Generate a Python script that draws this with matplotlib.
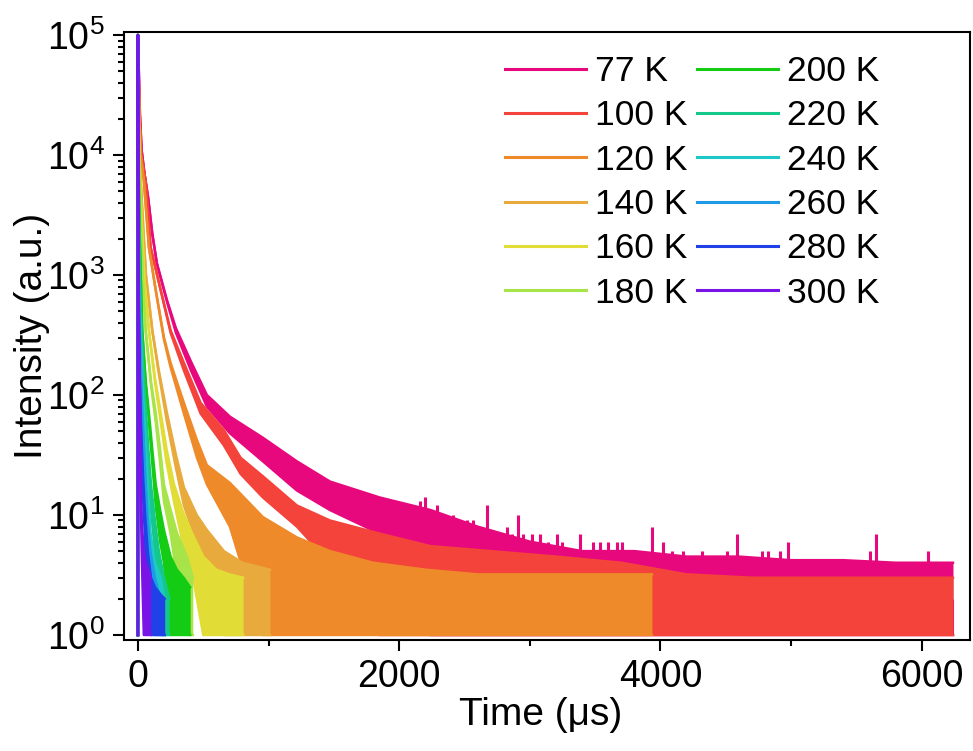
"""Temperature-dependent PL decay curves (log intensity vs time)."""

import matplotlib

matplotlib.use("Agg")
import matplotlib.pyplot as plt
from matplotlib.ticker import LogLocator, MultipleLocator, NullFormatter

plt.rcParams["font.family"] = ["Liberation Sans", "DejaVu Sans"]
plt.rcParams["mathtext.default"] = "regular"

# ---- data (time in us, counts) ----
# each curve: sample times, upper edge of the trace, lower edge of the trace
labels = ["77 K", "100 K", "120 K", "140 K", "160 K", "180 K",
          "200 K", "220 K", "240 K", "260 K", "280 K", "300 K"]
colors = ["#E8087E", "#F4433A", "#EE8A2A", "#E8AA3C", "#E2DC36", "#A6E44A",
          "#14CC14", "#14C88A", "#1EC8C8", "#1E9AE6", "#2040E8", "#7A14E6"]

t_77 = [0, 0, 5, 15, 28, 50, 77, 110, 145, 222, 291, 406, 528, 704, 957, 1217,
        1470, 1850, 2240, 2600, 3000, 3400, 3800, 4200, 4600, 5000, 5400, 5800, 6240]
hi_77 = [1, 1e5, 6e4, 2.2e4, 1.1e4, 7000, 4500, 2200, 1250, 620, 360, 190, 100, 66, 44, 28,
         19, 14, 11, 8, 6, 5, 5, 4.5, 4.5, 4.2, 4.2, 4, 4]
lo_77 = [1, 1e5, 6e4, 2.2e4, 1.1e4, 7000, 4500, 2200, 1250, 600, 330, 160, 80, 48, 28, 16,
         11, 7, 1, 1, 1, 1, 1, 1, 1, 1, 1, 1, 1]
# isolated spikes on the 77 K tail (time, count)
spike_t_77 = [2159, 2198, 2249, 2287, 2338, 2415, 2466, 2517, 2567, 2632, 2670, 2708,
              2823, 2861, 2912, 2950, 3014, 3078, 3142, 3206, 3244, 3333, 3384, 3436,
              3486, 3538, 3601, 3665, 3704, 3754, 3831, 3933, 3972, 4022, 4087, 4175,
              4240, 4316, 4380, 4431, 4508, 4584, 4673, 4776, 4826, 4865, 4916, 4979,
              5069, 5145, 5235, 5299, 5401, 5478, 5528, 5605, 5651, 5707, 5783, 5886,
              6001, 6051, 6128, 6179, 6230]
spike_I_77 = [13, 14, 9, 12, 8, 10, 9, 9, 9, 7, 12, 7,
              8, 7, 10, 7, 7, 7, 6, 7, 6, 5, 7, 5,
              6, 6, 6, 6, 6, 5, 5, 8, 4, 6, 5, 5,
              4, 5, 4, 4, 5, 7, 4, 5, 5, 4, 5, 6,
              4, 4, 4, 4, 4, 3, 3, 5, 7, 4, 3, 3,
              4, 5, 4, 4, 2]

t_100 = [0, 0, 5, 12, 25, 59, 97, 174, 250, 352, 480, 658, 786, 957, 1217,
         1470, 1850, 2240, 2700, 3200, 3700, 4200, 4700, 5200, 5700, 6240]
hi_100 = [1, 1e5, 5e4, 2e4, 1e4, 6000, 1700, 750, 346, 185, 86, 51, 30, 21, 12,
          9, 7, 5.5, 5, 4.5, 4, 3.2, 3, 3, 3, 3]
lo_100 = [1, 1e5, 5e4, 2e4, 1e4, 6000, 1700, 750, 330, 160, 70, 38, 22, 14, 8,
          4, 1, 1, 1, 1, 1, 1, 1, 1, 1, 1]

t_120 = [0, 0, 5, 12, 22, 46, 84, 136, 199, 250, 352, 452, 528, 704, 957, 1217,
         1470, 1800, 2200, 2600, 3000, 3400, 3935]
hi_120 = [1, 1e5, 5e4, 2e4, 1e4, 6000, 1700, 750, 303, 185, 86, 42, 26, 18.5, 9.6, 6.5,
          5, 4, 3.5, 3.2, 3.2, 3.2, 3.2]
lo_120 = [1, 1e5, 5e4, 2e4, 1e4, 6000, 1700, 750, 290, 170, 70, 30, 18, 8, 1, 1,
          1, 1, 1, 1, 1, 1, 1]

t_140 = [0, 0, 3, 6, 12, 30, 61, 110, 160, 222, 290, 352, 450, 528, 658, 800, 1010]
hi_140 = [1, 1e5, 5e4, 2.5e4, 1e4, 4000, 1000, 346, 160, 71, 32, 17, 10, 7.5, 5, 4, 3.5]
lo_140 = [1, 1e5, 5e4, 2.5e4, 1e4, 4000, 1000, 346, 150, 60, 25, 12, 6, 4, 1, 1, 1]

t_160 = [0, 0, 2, 5, 10, 25, 50, 84, 130, 174, 220, 276, 340, 403, 500, 600, 700, 805]
hi_160 = [1, 1e5, 5e4, 2.5e4, 1e4, 3500, 900, 346, 140, 71, 35, 18, 11, 7.5, 4.5, 3.5, 3.2, 3]
lo_160 = [1, 1e5, 5e4, 2.5e4, 1e4, 3500, 900, 346, 130, 60, 27, 13, 6, 4, 1, 1, 1, 1]

t_180 = [0, 0, 2, 4, 8, 20, 40, 59, 100, 136, 170, 199, 250, 300, 375, 420]
hi_180 = [1, 1e5, 4e4, 2e4, 1e4, 3000, 800, 346, 130, 71, 35, 18, 11, 7, 4.5, 3]
lo_180 = [1, 1e5, 4e4, 2e4, 1e4, 3000, 800, 346, 120, 60, 27, 13, 7, 3, 1, 1]

t_200 = [0, 0, 2, 4, 12, 22, 33, 60, 84, 110, 136, 170, 199, 250, 298, 350, 400]
hi_200 = [1, 1e5, 3e4, 1e4, 2500, 900, 346, 130, 71, 35, 18, 11, 7.5, 4.5, 3.5, 3, 2.5]
lo_200 = [1, 1e5, 3e4, 1e4, 2500, 900, 346, 120, 60, 27, 12, 6, 4, 1, 1, 1, 1]

t_220 = [0, 0, 2, 4, 10, 18, 25, 45, 62, 80, 100, 130, 160, 200, 240]
hi_220 = [1, 1e5, 2e4, 7000, 1500, 600, 346, 130, 71, 35, 18, 9, 5, 3, 2]
lo_220 = [1, 1e5, 2e4, 7000, 1500, 600, 346, 120, 55, 25, 11, 5, 2, 1, 1]

t_240 = [0, 0, 1.5, 3, 8, 14, 20, 35, 50, 65, 80, 97, 130, 174, 200]
hi_240 = [1, 1e5, 2e4, 6000, 1200, 500, 346, 120, 60, 30, 14, 7, 4, 3, 2]
lo_240 = [1, 1e5, 2e4, 6000, 1200, 500, 346, 110, 48, 22, 9, 4, 2, 1, 1]

t_260 = [0, 0, 1.5, 3, 7, 12, 17, 30, 45, 60, 75, 95, 130, 170, 200]
hi_260 = [1, 1e5, 1.5e4, 4000, 900, 400, 250, 90, 40, 18, 9, 5, 3, 2, 2]
lo_260 = [1, 1e5, 1.5e4, 4000, 900, 400, 250, 80, 32, 12, 5, 2, 1, 1, 1]

t_280 = [0, 0, 1, 2.5, 6, 10, 15, 25, 40, 55, 75, 100, 130, 170, 205]
hi_280 = [1, 1e5, 1.5e4, 3000, 600, 250, 120, 50, 20, 10, 5, 3, 2.5, 2.2, 2]
lo_280 = [1, 1e5, 1.5e4, 3000, 600, 250, 120, 40, 14, 6, 2, 1, 1, 1, 1]

t_300 = [0, 0, 1, 2, 5, 9, 14, 21, 31, 45, 60, 80, 97]
hi_300 = [1, 1e5, 1.2e4, 2500, 500, 200, 80, 20, 8, 5, 4, 3.5, 3]
lo_300 = [1, 1e5, 1.2e4, 2500, 500, 200, 80, 14, 4, 1, 1, 1, 1]

curves = [
    (t_77, hi_77, lo_77), (t_100, hi_100, lo_100), (t_120, hi_120, lo_120),
    (t_140, hi_140, lo_140), (t_160, hi_160, lo_160), (t_180, hi_180, lo_180),
    (t_200, hi_200, lo_200), (t_220, hi_220, lo_220), (t_240, hi_240, lo_240),
    (t_260, hi_260, lo_260), (t_280, hi_280, lo_280), (t_300, hi_300, lo_300),
]

fig = plt.figure(figsize=(9.73, 7.51), dpi=100)
ax = fig.add_axes([0.1274, 0.1478, 0.8696, 0.8096])

for i, ((t, hi, lo), label, color) in enumerate(zip(curves, labels, colors)):
    z = 2 + i
    ax.fill_between(t, lo, hi, color=color, linewidth=0, zorder=z)
    ax.plot(t, lo, color=color, lw=1.8, zorder=z)
    ax.plot(t, hi, color=color, lw=1.8, zorder=z, label=label)
    if i == 0:
        # tail spikes of the 77 K trace
        ax.vlines(spike_t_77, 1, spike_I_77, color=color, lw=2.2, zorder=z)

ax.set_yscale("log")
ax.set_xlim(-107, 6371)
ax.set_ylim(0.908, 1.06e5)

ax.xaxis.set_major_locator(MultipleLocator(2000))
ax.xaxis.set_minor_locator(MultipleLocator(1000))
ax.yaxis.set_major_locator(LogLocator(base=10, numticks=10))
ax.yaxis.set_minor_locator(LogLocator(base=10, subs=range(2, 10), numticks=20))
ax.yaxis.set_minor_formatter(NullFormatter())

ax.tick_params(which="both", direction="out", width=1.5, labelsize=27, top=False, right=False)
ax.tick_params(which="major", length=8, pad=6)
ax.tick_params(which="minor", length=4.5)
for sp in ax.spines.values():
    sp.set_linewidth(1.5)

ax.set_xlabel("Time (μs)", fontsize=28)
ax.set_ylabel("Intensity (a.u.)", fontsize=28)
ax.xaxis.set_label_coords(0.493, -0.093)
ax.yaxis.set_label_coords(-0.088, 0.5)

leg = ax.legend(ncol=2, loc="upper left", bbox_to_anchor=(505 / 973, (751 - 55) / 751),
                bbox_transform=fig.transFigure, frameon=False, fontsize=25.5,
                handlelength=2.29, handletextpad=0.25, columnspacing=0.28,
                labelspacing=0.32, borderpad=0, borderaxespad=0)
for line in leg.get_lines():
    line.set_linewidth(2.2)

fig.savefig("out.png", dpi=100)
